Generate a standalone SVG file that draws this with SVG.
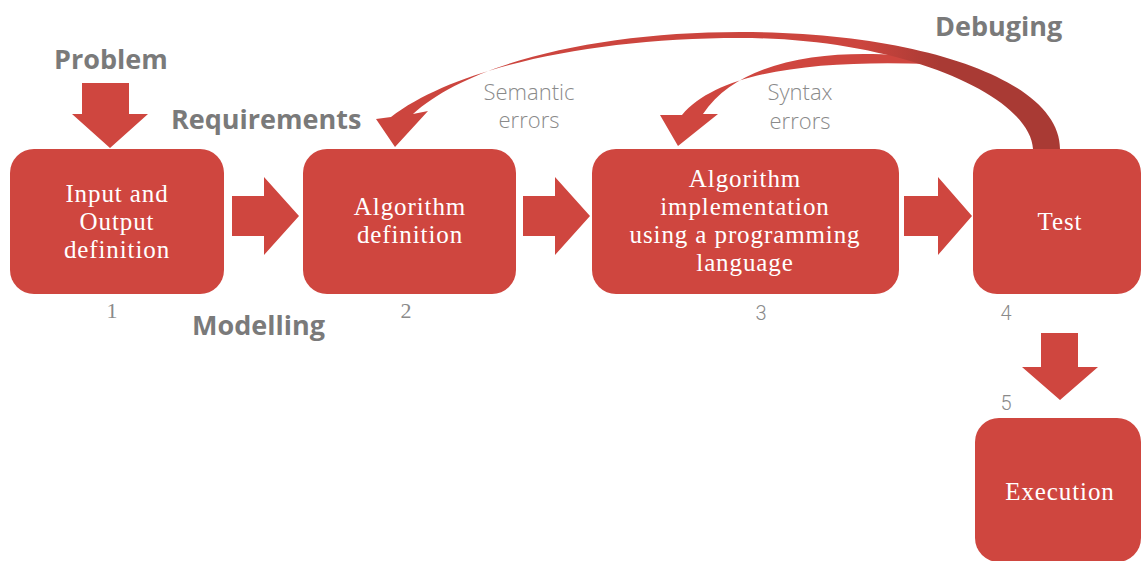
<svg xmlns="http://www.w3.org/2000/svg" width="1142" height="561" viewBox="0 0 1142 561">
  <defs>
    <style>
      .box { fill: #cf463f; }
      .arrow { fill: #cf463f; }
      .boxtext { font-family: "Liberation Serif", "DejaVu Serif", serif; font-size: 25px; letter-spacing: 0.9px; fill: #ffffff; text-anchor: middle; }
      .stage { font-family: "Open Sans", "Liberation Sans", sans-serif; font-weight: bold; font-size: 27px; fill: #7a7a7a; }
      .note { font-family: "Open Sans", "Liberation Sans", sans-serif; font-weight: 300; font-size: 22px; fill: #8a8a8a; text-anchor: middle; }
      .num { font-family: "Roboto", "Liberation Sans", sans-serif; font-weight: 300; font-size: 20px; fill: #8a8a8a; text-anchor: middle; }
      .numslab { font-family: "Liberation Serif", "DejaVu Serif", serif; font-size: 22px; fill: #8a8a8a; text-anchor: middle; }
    </style>
    <linearGradient id="debugShade" gradientUnits="userSpaceOnUse" x1="860" y1="0" x2="940" y2="0">
      <stop offset="0" stop-color="#cc453e"/>
      <stop offset="1" stop-color="#a93a34"/>
    </linearGradient>
  </defs>

  <!-- stage labels -->
  <text class="stage" x="54" y="69">Problem</text>
  <text class="stage" x="171" y="129">Requirements</text>
  <text class="stage" x="192" y="335">Modelling</text>
  <text class="stage" x="935" y="36">Debuging</text>

  <!-- connectors -->
  <g id="connectors">
    <!-- problem into step 1 -->
    <path class="arrow" d="M82 83 H129 V114 H148 L110 148 L72 114 H82 Z"/>
    <!-- step 1 to 2 -->
    <path class="arrow" d="M232 196 H264 V177 L299 216 L264 255 V236 H232 Z"/>
    <!-- step 2 to 3 -->
    <path class="arrow" d="M523 196 H555 V177 L590 216 L555 255 V236 H523 Z"/>
    <!-- step 3 to 4 -->
    <path class="arrow" d="M904 196 H938 V177 L972 216 L938 255 V236 H904 Z"/>
    <!-- step 4 to 5 -->
    <path class="arrow" d="M1041 333 H1078 V367 H1098 L1060 400 L1022 367 H1041 Z"/>
    <!-- syntax errors loop back to step 3 -->
    <path class="arrow" d="M930 59 C860 48 745 50 703 114 L718 114 L678 146 L660 115 L682 115 C720 70 820 60 930 64 Z"/>
    <!-- semantic errors loop back to step 2 -->
    <path fill="url(#debugShade)" d="M1060 149 C1060 80 920 32 740 32 C600 32 470 62 413 114 L428 111 L395 147 L376 119 L391 117 C455 68 590 38 740 38 C900 38 1030 95 1033 149 Z"/>
  </g>

  <text class="note" x="529" y="100">Semantic</text>
  <text class="note" x="529" y="128">errors</text>
  <text class="note" x="800" y="100">Syntax</text>
  <text class="note" x="800" y="129">errors</text>

  <g id="step1">
    <rect class="box" x="10" y="149" width="214" height="145" rx="24"/>
    <text class="boxtext" x="117" y="202">Input and</text>
    <text class="boxtext" x="117" y="230">Output</text>
    <text class="boxtext" x="117" y="258">definition</text>
    <text class="numslab" x="112" y="318">1</text>
  </g>

  <g id="step2">
    <rect class="box" x="303" y="149" width="213" height="145" rx="24"/>
    <text class="boxtext" x="410" y="215">Algorithm</text>
    <text class="boxtext" x="410" y="243">definition</text>
    <text class="numslab" x="406" y="318">2</text>
  </g>

  <g id="step3">
    <rect class="box" x="592" y="149" width="307" height="145" rx="24"/>
    <text class="boxtext" x="745" y="187">Algorithm</text>
    <text class="boxtext" x="745" y="215">implementation</text>
    <text class="boxtext" x="745" y="243">using a programming</text>
    <text class="boxtext" x="745" y="271">language</text>
    <text class="num" x="761" y="320">3</text>
  </g>

  <g id="step4">
    <rect class="box" x="973" y="149" width="168" height="145" rx="24"/>
    <text class="boxtext" x="1060" y="230">Test</text>
    <text class="num" x="1006" y="320">4</text>
  </g>

  <g id="step5">
    <rect class="box" x="975" y="418" width="166" height="144" rx="24"/>
    <text class="boxtext" x="1060" y="500">Execution</text>
    <text class="num" x="1006" y="410">5</text>
  </g>
</svg>
